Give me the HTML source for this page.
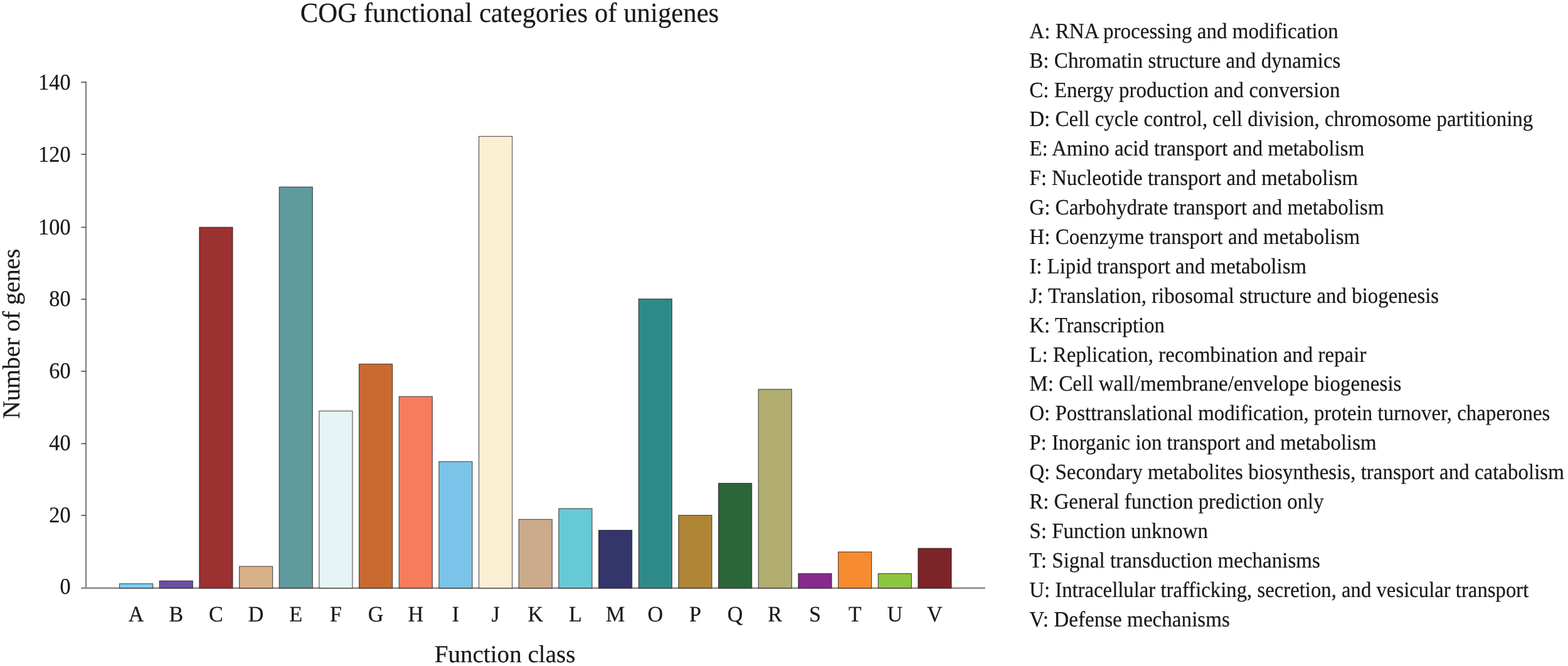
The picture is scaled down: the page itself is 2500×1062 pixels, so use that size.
<!DOCTYPE html>
<html lang="en"><head><meta charset="utf-8"><title>COG functional categories of unigenes</title>
<style>html,body{margin:0;padding:0;background:#fff}html,body{width:2500px;height:1062px}svg{display:block}text{font-family:"Liberation Serif","DejaVu Serif",serif;fill:#1b1819;text-rendering:geometricPrecision;stroke:#1b1819;stroke-width:0.22px}</style></head><body>
<svg width="2500" height="1062" viewBox="0 0 2500 1062">
<rect width="2500" height="1062" fill="#fff"/>
<text transform="translate(478.80 35.00) scale(0.9655 1)" font-size="44.3" text-anchor="start">COG functional categories of unigenes</text>
<g stroke="#8e8684" stroke-width="2.5" fill="none">
<line x1="137.0" y1="130.20" x2="137.0" y2="937.80"/>
<line x1="129.3" y1="937.80" x2="1570.8" y2="937.80"/>
</g>
<g stroke="#5a5251" stroke-width="1.7" fill="none">
<line x1="129.3" y1="821.80" x2="137.5" y2="821.80"/>
<line x1="129.3" y1="707.40" x2="137.5" y2="707.40"/>
<line x1="129.3" y1="592.00" x2="137.5" y2="592.00"/>
<line x1="129.3" y1="477.20" x2="137.5" y2="477.20"/>
<line x1="129.3" y1="362.40" x2="137.5" y2="362.40"/>
<line x1="129.3" y1="246.10" x2="137.5" y2="246.10"/>
<line x1="129.3" y1="131.10" x2="137.5" y2="131.10"/>
</g>
<text transform="translate(112.60 947.00) scale(0.9550 1)" font-size="36" text-anchor="end">0</text>
<text transform="translate(112.60 833.00) scale(0.9550 1)" font-size="36" text-anchor="end">20</text>
<text transform="translate(112.60 718.00) scale(0.9550 1)" font-size="36" text-anchor="end">40</text>
<text transform="translate(112.60 603.00) scale(0.9550 1)" font-size="36" text-anchor="end">60</text>
<text transform="translate(112.60 488.00) scale(0.9550 1)" font-size="36" text-anchor="end">80</text>
<text transform="translate(112.60 374.00) scale(0.9550 1)" font-size="36" text-anchor="end">100</text>
<text transform="translate(112.60 258.00) scale(0.9550 1)" font-size="36" text-anchor="end">120</text>
<text transform="translate(112.60 143.00) scale(0.9550 1)" font-size="36" text-anchor="end">140</text>
<g stroke="#1c1818" stroke-opacity="0.72" stroke-width="1.15">
<rect x="190.55" y="930.79" width="53.1" height="7.01" fill="#79d0f1"/>
<rect x="254.22" y="926.18" width="53.1" height="11.62" fill="#6a4ea8"/>
<rect x="317.88" y="362.36" width="53.1" height="575.44" fill="#9b3131"/>
<rect x="381.55" y="903.13" width="53.1" height="34.67" fill="#d8b189"/>
<rect x="445.21" y="298.12" width="53.1" height="639.68" fill="#5f9a9c"/>
<rect x="508.88" y="655.36" width="53.1" height="282.44" fill="#e6f4f6"/>
<rect x="572.54" y="580.46" width="53.1" height="357.34" fill="#c96a30"/>
<rect x="636.20" y="632.31" width="53.1" height="305.49" fill="#f57c5c"/>
<rect x="699.87" y="736.03" width="53.1" height="201.77" fill="#7bc3e8"/>
<rect x="763.54" y="217.45" width="53.1" height="720.35" fill="#fbefd3"/>
<rect x="827.20" y="828.22" width="53.1" height="109.58" fill="#cbab8b"/>
<rect x="890.87" y="810.94" width="53.1" height="126.86" fill="#68c9d6"/>
<rect x="954.53" y="845.51" width="53.1" height="92.29" fill="#33356b"/>
<rect x="1018.19" y="476.74" width="53.1" height="461.06" fill="#2e8a88"/>
<rect x="1081.86" y="821.60" width="53.1" height="116.20" fill="#b08535"/>
<rect x="1145.53" y="770.60" width="53.1" height="167.20" fill="#2b6639"/>
<rect x="1209.19" y="620.79" width="53.1" height="317.01" fill="#b2ae72"/>
<rect x="1272.86" y="914.65" width="53.1" height="23.15" fill="#872a8e"/>
<rect x="1336.52" y="880.08" width="53.1" height="57.72" fill="#f68b2f"/>
<rect x="1400.18" y="914.65" width="53.1" height="23.15" fill="#8cc63f"/>
<rect x="1463.85" y="874.32" width="53.1" height="63.48" fill="#7d2428"/>
</g>
<text transform="translate(217.10 991.00) scale(0.9600 1)" font-size="35.5" text-anchor="middle">A</text>
<text transform="translate(280.76 991.00) scale(0.9600 1)" font-size="35.5" text-anchor="middle">B</text>
<text transform="translate(344.43 991.00) scale(0.9600 1)" font-size="35.5" text-anchor="middle">C</text>
<text transform="translate(408.10 991.00) scale(0.9600 1)" font-size="35.5" text-anchor="middle">D</text>
<text transform="translate(471.76 991.00) scale(0.9600 1)" font-size="35.5" text-anchor="middle">E</text>
<text transform="translate(535.42 991.00) scale(0.9600 1)" font-size="35.5" text-anchor="middle">F</text>
<text transform="translate(599.09 991.00) scale(0.9600 1)" font-size="35.5" text-anchor="middle">G</text>
<text transform="translate(662.75 991.00) scale(0.9600 1)" font-size="35.5" text-anchor="middle">H</text>
<text transform="translate(726.42 991.00) scale(0.9600 1)" font-size="35.5" text-anchor="middle">I</text>
<text transform="translate(790.09 991.00) scale(0.9600 1)" font-size="35.5" text-anchor="middle">J</text>
<text transform="translate(853.75 991.00) scale(0.9600 1)" font-size="35.5" text-anchor="middle">K</text>
<text transform="translate(917.41 991.00) scale(0.9600 1)" font-size="35.5" text-anchor="middle">L</text>
<text transform="translate(981.08 991.00) scale(0.9600 1)" font-size="35.5" text-anchor="middle">M</text>
<text transform="translate(1044.74 991.00) scale(0.9600 1)" font-size="35.5" text-anchor="middle">O</text>
<text transform="translate(1108.41 991.00) scale(0.9600 1)" font-size="35.5" text-anchor="middle">P</text>
<text transform="translate(1172.08 991.00) scale(0.9600 1)" font-size="35.5" text-anchor="middle">Q</text>
<text transform="translate(1235.74 991.00) scale(0.9600 1)" font-size="35.5" text-anchor="middle">R</text>
<text transform="translate(1299.40 991.00) scale(0.9600 1)" font-size="35.5" text-anchor="middle">S</text>
<text transform="translate(1363.07 991.00) scale(0.9600 1)" font-size="35.5" text-anchor="middle">T</text>
<text transform="translate(1426.73 991.00) scale(0.9600 1)" font-size="35.5" text-anchor="middle">U</text>
<text transform="translate(1490.40 991.00) scale(0.9600 1)" font-size="35.5" text-anchor="middle">V</text>
<text transform="translate(805.05 1056.00) scale(1.0020 1)" font-size="39" text-anchor="middle">Function class</text>
<text transform="translate(31.0 532.2) rotate(-90) scale(1.0096 1)" font-size="39" text-anchor="middle">Number of genes</text>
<text transform="translate(1641.30 61.00) scale(0.9454 1)" font-size="35" text-anchor="start">A: RNA processing and modification</text>
<text transform="translate(1641.30 108.00) scale(0.9452 1)" font-size="35" text-anchor="start">B: Chromatin structure and dynamics</text>
<text transform="translate(1641.30 155.00) scale(0.9445 1)" font-size="35" text-anchor="start">C: Energy production and conversion</text>
<text transform="translate(1641.30 201.00) scale(0.9420 1)" font-size="35" text-anchor="start">D: Cell cycle control, cell division, chromosome partitioning</text>
<text transform="translate(1641.30 248.00) scale(0.9423 1)" font-size="35" text-anchor="start">E: Amino acid transport and metabolism</text>
<text transform="translate(1641.30 295.00) scale(0.9421 1)" font-size="35" text-anchor="start">F: Nucleotide transport and metabolism</text>
<text transform="translate(1641.30 342.00) scale(0.9443 1)" font-size="35" text-anchor="start">G: Carbohydrate transport and metabolism</text>
<text transform="translate(1641.30 389.00) scale(0.9446 1)" font-size="35" text-anchor="start">H: Coenzyme transport and metabolism</text>
<text transform="translate(1641.30 436.00) scale(0.9388 1)" font-size="35" text-anchor="start">I: Lipid transport and metabolism</text>
<text transform="translate(1641.30 483.00) scale(0.9406 1)" font-size="35" text-anchor="start">J: Translation, ribosomal structure and biogenesis</text>
<text transform="translate(1641.30 530.00) scale(0.9357 1)" font-size="35" text-anchor="start">K: Transcription</text>
<text transform="translate(1641.30 577.00) scale(0.9414 1)" font-size="35" text-anchor="start">L: Replication, recombination and repair</text>
<text transform="translate(1641.30 623.00) scale(0.9462 1)" font-size="35" text-anchor="start">M: Cell wall/membrane/envelope biogenesis</text>
<text transform="translate(1641.30 670.00) scale(0.9410 1)" font-size="35" text-anchor="start">O: Posttranslational modification, protein turnover, chaperones</text>
<text transform="translate(1641.30 717.00) scale(0.9386 1)" font-size="35" text-anchor="start">P: Inorganic ion transport and metabolism</text>
<text transform="translate(1641.30 764.00) scale(0.9420 1)" font-size="35" text-anchor="start">Q: Secondary metabolites biosynthesis, transport and catabolism</text>
<text transform="translate(1641.30 811.00) scale(0.9395 1)" font-size="35" text-anchor="start">R: General function prediction only</text>
<text transform="translate(1641.30 858.00) scale(0.9448 1)" font-size="35" text-anchor="start">S: Function unknown</text>
<text transform="translate(1641.30 905.00) scale(0.9439 1)" font-size="35" text-anchor="start">T: Signal transduction mechanisms</text>
<text transform="translate(1641.30 952.00) scale(0.9357 1)" font-size="35" text-anchor="start">U: Intracellular trafficking, secretion, and vesicular transport</text>
<text transform="translate(1641.30 999.00) scale(0.9468 1)" font-size="35" text-anchor="start">V: Defense mechanisms</text>
</svg></body></html>
